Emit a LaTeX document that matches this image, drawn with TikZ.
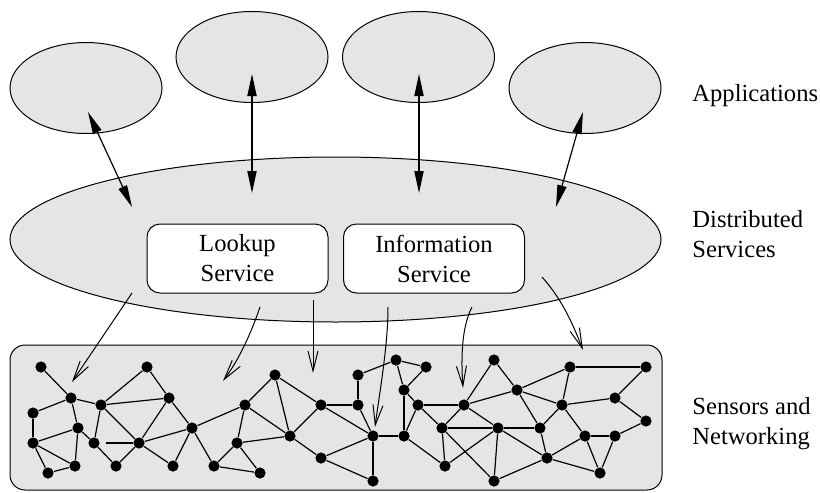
\documentclass[tikz,border=0pt]{standalone}
\usepackage{fontspec}
\setmainfont{Liberation Serif}
\usetikzlibrary{arrows.meta}
\usetikzlibrary{positioning}
\usetikzlibrary{shapes.geometric}

\definecolor{layergray}{gray}{0.9}

\begin{document}
\begin{tikzpicture}[x=0.5pt,y=-0.5pt,
        app/.style={ellipse,draw,fill=layergray,line width=0.5pt,minimum width=76pt,minimum height=45.5pt,inner sep=0pt},
        svc/.style={draw,fill=white,line width=0.5pt,rounded corners=6.5pt,minimum width=90.5pt,minimum height=34.5pt,align=center,font=\fontsize{12.3}{15}\selectfont},
        dot/.style={circle,fill=black,inner sep=0pt,minimum size=5.6pt},
        link/.style={line width=0.6pt},
        duplex/.style={line width=0.6pt,{Triangle[length=11pt,width=4.6pt]}-{Triangle[length=11pt,width=4.6pt]}},
        feed/.style={line width=0.5pt,-{Straight Barb[length=10pt,width=5pt]}},
        lbl/.style={anchor=west,align=left,inner sep=0pt,font=\fontsize{12.3}{15}\selectfont}]
        \useasboundingbox (0,0) rectangle (820,493);

        % applications
        \node[app] (app_1) at (86,88)    {};
        \node[app] (app_2) at (252,57)   {};
        \node[app] (app_3) at (418.5,57) {};
        \node[app] (app_4) at (585,88)   {};

        % distributed services
        \node[ellipse,draw,fill=layergray,line width=0.5pt,minimum width=325.5pt,minimum height=82.5pt,inner sep=0pt] (ds) at (335.5,239.5) {};
        \node[svc] (lookup) at (237.5,258.5) {Lookup\\Service};
        \node[svc] (info)   at (434,258.5)   {Information\\Service};

        % sensor network
        \node[draw,fill=layergray,line width=0.5pt,rounded corners=7.5pt,minimum width=326pt,minimum height=72.5pt] (net) at (336,417.5) {};

        \node[lbl] (l_app) at (692,96)  {Applications};
        \node[lbl] (l_ds)  at (692,234) {Distributed\\Services};
        \node[lbl] (l_net) at (692,424) {Sensors and\\Networking};

        % arrow ends
        \coordinate (u_1) at (88,112);   \coordinate (v_1) at (132,207);
        \coordinate (u_2) at (252,74);   \coordinate (v_2) at (252,193);
        \coordinate (u_3) at (419,74);   \coordinate (v_3) at (419,193);
        \coordinate (u_4) at (583,112);  \coordinate (v_4) at (556,207);
        \coordinate (s_1) at (132,293);  \coordinate (t_1) at (72,382);
        \coordinate (s_2) at (260,307);  \coordinate (t_2) at (223,381);
        \coordinate (s_3) at (313,300);  \coordinate (t_3) at (313,373);
        \coordinate (s_4) at (388,307);  \coordinate (t_4) at (375,427);
        \coordinate (s_5) at (472,307);  \coordinate (t_5) at (463,388);
        \coordinate (s_6) at (542,277);  \coordinate (t_6) at (583,350);

        % nodes of the network
        \node[dot] (n_1)  at (41,367)  {};
        \node[dot] (n_2)  at (71,398)  {};
        \node[dot] (n_3)  at (33,413)  {};
        \node[dot] (n_4)  at (78,428)  {};
        \node[dot] (n_5)  at (33,443)  {};
        \node[dot] (n_6)  at (48,473)  {};
        \node[dot] (n_7)  at (75,466)  {};
        \node[dot] (n_8)  at (94,443)  {};
        \node[dot] (n_9)  at (101,405) {};
        \node[dot] (n_10) at (147,367) {};
        \node[dot] (n_11) at (169,398) {};
        \node[dot] (n_12) at (139,443) {};
        \node[dot] (n_13) at (116,466) {};
        \node[dot] (n_14) at (173,466) {};
        \node[dot] (n_15) at (192,428) {};
        \node[dot] (n_16) at (214,466) {};
        \node[dot] (n_17) at (237,443) {};
        \node[dot] (n_18) at (275,375) {};
        \node[dot] (n_19) at (245,405) {};
        \node[dot] (n_20) at (290,436) {};
        \node[dot] (n_21) at (260,473) {};
        \node[dot] (n_22) at (321,405) {};
        \node[dot] (n_23) at (321,458) {};
        \node[dot] (n_24) at (358,375) {};
        \node[dot] (n_25) at (358,405) {};
        \node[dot] (n_26) at (373,436) {};
        \node[dot] (n_27) at (373,481) {};
        \node[dot] (n_28) at (396,360) {};
        \node[dot] (n_29) at (426,367) {};
        \node[dot] (n_30) at (404,390) {};
        \node[dot] (n_31) at (418,405) {};
        \node[dot] (n_32) at (404,436) {};
        \node[dot] (n_33) at (494,360) {};
        \node[dot] (n_34) at (464,405) {};
        \node[dot] (n_35) at (517,390) {};
        \node[dot] (n_36) at (442,428) {};
        \node[dot] (n_37) at (498,428) {};
        \node[dot] (n_38) at (540,428) {};
        \node[dot] (n_39) at (445,466) {};
        \node[dot] (n_40) at (494,481) {};
        \node[dot] (n_41) at (547,458) {};
        \node[dot] (n_42) at (570,367) {};
        \node[dot] (n_43) at (562,405) {};
        \node[dot] (n_44) at (646,367) {};
        \node[dot] (n_45) at (615,398) {};
        \node[dot] (n_46) at (646,421) {};
        \node[dot] (n_47) at (585,436) {};
        \node[dot] (n_48) at (615,436) {};
        \node[dot] (n_49) at (600,473) {};

        \path[link]
        (n_1) edge (n_2)   (n_2) edge (n_3)   (n_2) edge (n_9)   (n_2) edge (n_4)
        (n_3) edge (n_5)   (n_5) edge (n_4)   (n_5) edge (n_7)   (n_5) edge (n_6)
        (n_6) edge (n_7)   (n_4) edge (n_7)   (n_4) edge (n_8)   (n_8) edge (n_9)
        (n_8) edge[shorten <=3pt] (n_12)
        (n_9) edge (n_10)  (n_9) edge (n_11)  (n_9) edge (n_12)  (n_10) edge (n_11)
        (n_11) edge (n_12) (n_12) edge (n_13) (n_8) edge (n_13)  (n_12) edge (n_14)
        (n_11) edge (n_15) (n_12) edge (n_15) (n_14) edge (n_15) (n_15) edge (n_16)
        (n_15) edge (n_19) (n_16) edge (n_17) (n_16) edge (n_21) (n_17) edge (n_21)
        (n_19) edge (n_18) (n_19) edge (n_17) (n_19) edge (n_20) (n_18) edge (n_20)
        (n_18) edge (n_22) (n_17) edge (n_20) (n_20) edge (n_22) (n_20) edge (n_23)
        (n_22) edge (n_25) (n_22) edge (n_26) (n_23) edge (n_26) (n_23) edge (n_27)
        (n_24) edge (n_25) (n_24) edge (n_28) (n_25) edge (n_26) (n_26) edge (n_27)
        (n_26) edge (n_32) (n_28) edge (n_29) (n_28) edge (n_30) (n_29) edge (n_30)
        (n_30) edge (n_32) (n_30) edge (n_31) (n_31) edge (n_32) (n_31) edge (n_34)
        (n_31) edge (n_36) (n_32) edge (n_39)
        (n_33) edge (n_34) (n_33) edge (n_35) (n_34) edge (n_35) (n_34) edge (n_36)
        (n_34) edge (n_37) (n_35) edge (n_38) (n_35) edge (n_42) (n_35) edge (n_43)
        (n_36) edge (n_37) (n_36) edge (n_39) (n_36) edge (n_40) (n_37) edge (n_38)
        (n_37) edge (n_39) (n_37) edge (n_40) (n_37) edge (n_41) (n_38) edge (n_41)
        (n_38) edge (n_43) (n_40) edge (n_41) (n_41) edge (n_47) (n_41) edge (n_49)
        (n_42) edge (n_43) (n_42) edge (n_44) (n_43) edge (n_45) (n_43) edge (n_47)
        (n_44) edge (n_45) (n_45) edge (n_46) (n_46) edge (n_48) (n_47) edge (n_48)
        (n_47) edge (n_49) (n_48) edge (n_49);

        % layer arrows
        \draw[duplex] (u_1) -- (v_1);
        \draw[duplex] (u_2) -- (v_2);
        \draw[duplex] (u_3) -- (v_3);
        \draw[duplex] (u_4) -- (v_4);
        \draw[feed] (s_1) -- (t_1);
        \draw[feed] (s_2) .. controls (251.5,332) and (239.5,359) .. (t_2);
        \draw[feed] (s_3) -- (t_3);
        \draw[feed] (s_4) .. controls (388,345) and (380,390) .. (t_4);
        \draw[feed] (s_5) .. controls (461.6,327) and (460.9,358) .. (t_5);
        \draw[feed] (s_6) .. controls (564.5,302) and (575,330) .. (t_6);
    \end{tikzpicture}
\end{document}
